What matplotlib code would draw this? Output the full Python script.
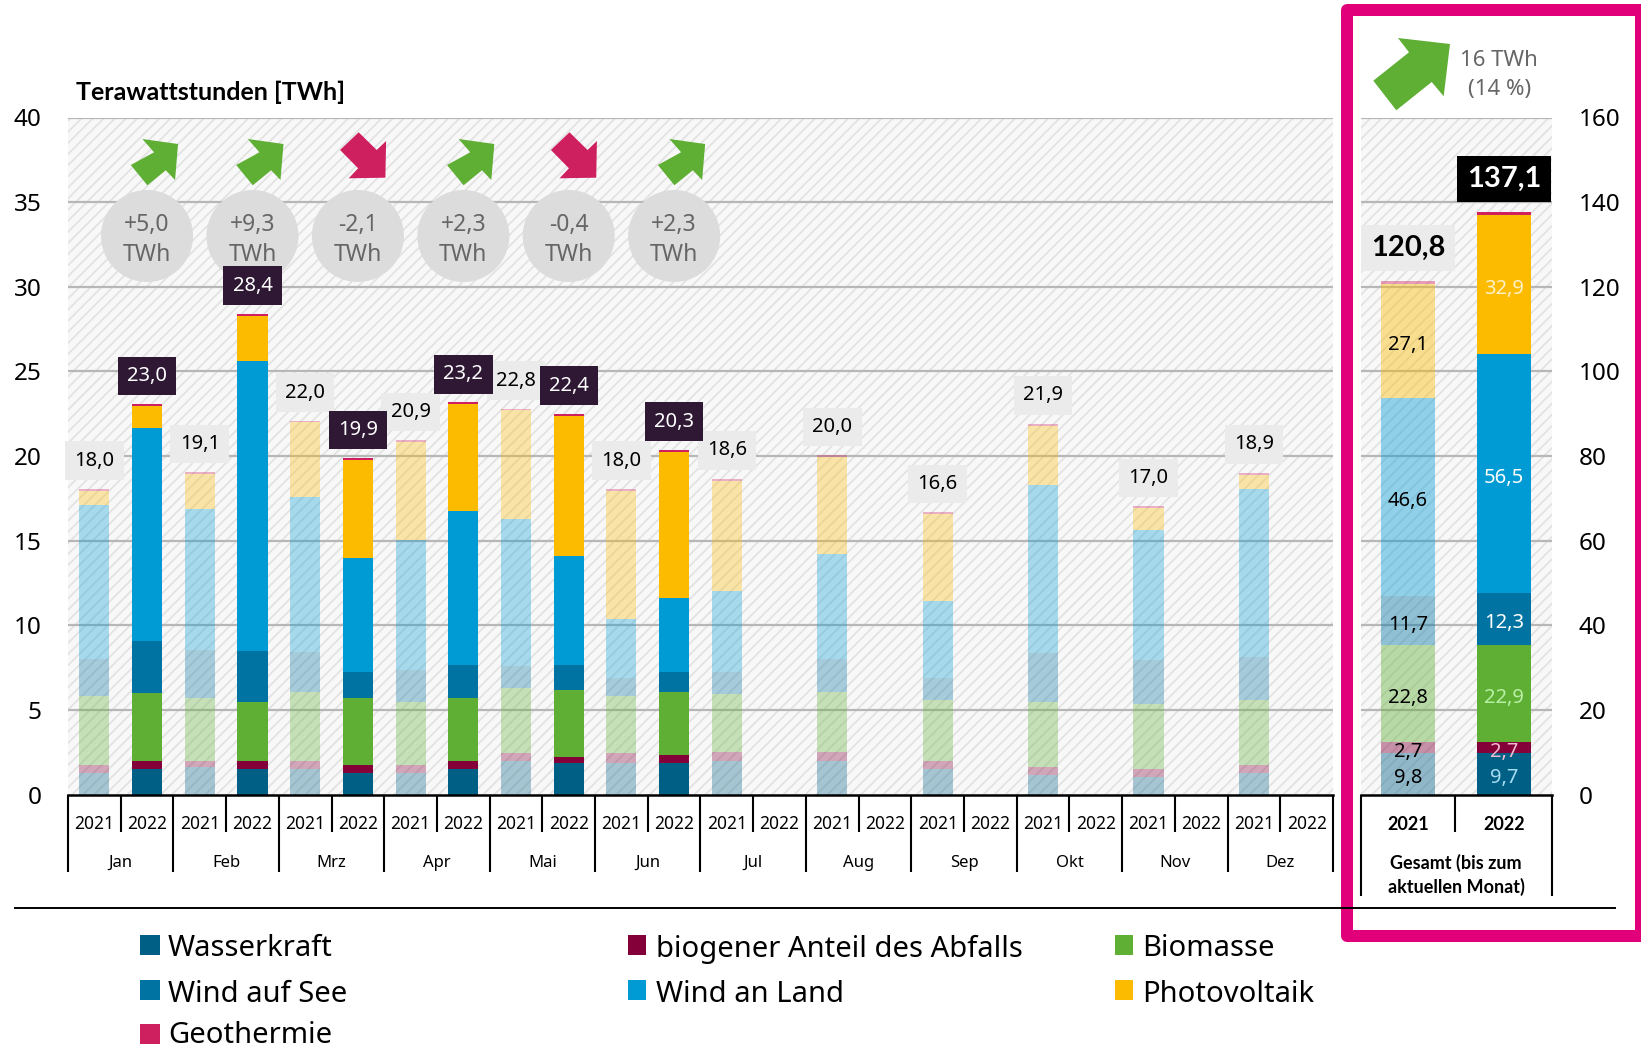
import matplotlib
matplotlib.use("Agg")
import matplotlib.pyplot as plt
import numpy as np
from matplotlib.patches import Circle, Polygon, Rectangle
from matplotlib.transforms import Affine2D

plt.rcParams["font.family"] = ["Noto Sans", "DejaVu Sans"]
plt.rcParams["hatch.linewidth"] = 1.25

BOLD = dict(family="Lato", fontweight="bold")

W, H = 1641, 1050

MONTHS = ["Jan", "Feb", "Mrz", "Apr", "Mai", "Jun", "Jul", "Aug", "Sep", "Okt", "Nov", "Dez"]
SERIES = ["Wasserkraft", "biogener Anteil des Abfalls", "Biomasse", "Wind auf See",
          "Wind an Land", "Photovoltaik", "Geothermie"]
COLORS = ["#005F85", "#830039", "#5FAF35", "#0073A2", "#009BD5", "#FDBB00", "#CE1F5E"]

wasser_21 = [1.28, 1.64, 1.52, 1.28, 1.97, 1.85, 1.97, 1.97, 1.50, 1.14, 1.04, 1.26]
abfall_21 = [0.47, 0.32, 0.45, 0.47, 0.47, 0.59, 0.57, 0.57, 0.47, 0.47, 0.45, 0.47]
biomasse_21 = [4.08, 3.73, 4.10, 3.71, 3.83, 3.39, 3.41, 3.52, 3.60, 3.88, 3.84, 3.84]
see_21 = [2.17, 2.82, 2.33, 1.89, 1.30, 1.03, 1.26, 1.95, 1.30, 2.89, 2.60, 2.58]
land_21 = [9.11, 8.36, 9.17, 7.67, 8.72, 3.51, 4.80, 6.22, 4.55, 9.92, 7.68, 9.92]
pv_21 = [0.83, 2.09, 4.42, 5.82, 6.41, 7.57, 6.54, 5.69, 5.14, 3.50, 1.30, 0.83]
geo_21 = [0.12, 0.10, 0.10, 0.10, 0.10, 0.12, 0.12, 0.14, 0.12, 0.12, 0.12, 0.12]

wasser_22 = [1.52, 1.52, 1.28, 1.52, 1.85, 1.85]
abfall_22 = [0.45, 0.45, 0.47, 0.45, 0.37, 0.49]
biomasse_22 = [4.00, 3.51, 3.96, 3.73, 3.96, 3.73]
see_22 = [3.12, 3.02, 1.52, 1.95, 1.48, 1.16]
land_22 = [12.56, 17.10, 6.73, 9.11, 6.43, 4.40]
pv_22 = [1.28, 2.68, 5.80, 6.29, 8.28, 8.62]
geo_22 = [0.14, 0.12, 0.12, 0.12, 0.12, 0.12]

total_labels_21 = ["18,0", "19,1", "22,0", "20,9", "22,8", "18,0", "18,6", "20,0", "16,6", "21,9", "17,0", "18,9"]
total_labels_22 = ["23,0", "28,4", "19,9", "23,2", "22,4", "20,3"]
diff_labels = ["+5,0", "+9,3", "-2,1", "+2,3", "-0,4", "+2,3"]

sum_21 = [9.8, 2.7, 22.8, 11.7, 46.6, 27.1, 0.6]
sum_22 = [9.7, 2.7, 22.9, 12.3, 56.5, 32.9, 0.6]
sum_total_labels = ["120,8", "137,1"]
sum_label_colors_22 = ["#A5DDF2", "#F3BBD0", "#B9F0A5", "#FFFFFF", "#FFFFFF", "#FFF0C8"]

UP_ARROW = np.array([(31, -92), (-4.7, -97), (7, -83.7), (-16.3, -71), (0.3, -50.7), (18.7, -65.7), (28, -56)])
DOWN_ARROW = np.array([(28.2, -95), (18.8, -86), (0.8, -103.7), (-17.8, -86), (0.2, -67.7), (-9.2, -57.7), (27.5, -58.3)])

fig = plt.figure(figsize=(W / 100, H / 100), dpi=100, facecolor="white")
px = Affine2D().scale(1, -1).translate(0, H)  # reference pixels, y going down

Y_TOP, Y_BASE = 117.5, 794.5


def make_axes(left, right, ymax, yticks):
    ax = fig.add_axes([left / W, (H - Y_BASE) / H, (right - left) / W, (Y_BASE - Y_TOP) / H])
    ax.set_ylim(0, ymax)
    ax.set_yticks(yticks)
    ax.set_xticks([])
    for s in ax.spines.values():
        s.set_visible(False)
    ax.set_facecolor("none")
    ax.add_patch(Rectangle((0, 0), 1, 1, transform=ax.transAxes, facecolor="#F8F8F8",
                           edgecolor="#E2E2E2", hatch="///", lw=0, zorder=0))
    for v in yticks[1:]:
        ax.axhline(v, color="#B7B7B7", lw=1.6, zorder=1)
    return ax


def stacked(ax, xs, columns, width, alpha):
    bottom = np.zeros(len(xs))
    for col, color in zip(columns, COLORS):
        col = np.array(col)
        ax.bar(xs, col, width, bottom=bottom, color=color, alpha=alpha, lw=0, zorder=2)
        bottom += col
    return bottom


def vline(ax, x, y_px, lw=1.5):
    y = (Y_BASE - y_px) / (Y_BASE - Y_TOP)
    ax.plot([x, x], [0, y], color="black", lw=lw, transform=ax.get_xaxis_transform(),
            clip_on=False, zorder=5, solid_capstyle="butt")


def below(ax, x, y_px, text, **kw):
    y = (Y_BASE - y_px) / (Y_BASE - Y_TOP)
    ax.text(x, y, text, transform=ax.get_xaxis_transform(), ha="center", va="center", clip_on=False, **kw)


# months
ax = make_axes(68, 1333, 40, [0, 5, 10, 15, 20, 25, 30, 35, 40])
ax.set_xlim(-0.5, 23.5)
ax.tick_params(axis="y", length=0, pad=19, labelsize=17.5)

xs_21 = np.arange(12) * 2
xs_22 = np.arange(6) * 2 + 1
top_21 = stacked(ax, xs_21, [wasser_21, abfall_21, biomasse_21, see_21, land_21, pv_21, geo_21], 0.57, 0.33)
top_22 = stacked(ax, xs_22, [wasser_22, abfall_22, biomasse_22, see_22, land_22, pv_22, geo_22], 0.57, 1)

for x, top, label in zip(xs_21, top_21, total_labels_21):
    ax.text(x, top + 1.66, label, ha="center", va="center", fontsize=14.5, color="black", zorder=6,
            bbox=dict(boxstyle="square,pad=0.46", fc="#EBEBEB", ec="none"))
for x, top, label in zip(xs_22, top_22, total_labels_22):
    ax.text(x, top + 1.66, label, ha="center", va="center", fontsize=14.5, color="white", zorder=7,
            bbox=dict(boxstyle="square,pad=0.46", fc="#2F1834", ec="none"))

for x, label in zip(xs_22, diff_labels):
    cx = ax.transData.transform((x, 0))[0]
    ax.add_patch(Circle((cx, 236), 46, transform=px, fc="#DCDCDC", ec="none", zorder=3, clip_on=False))
    ax.text(cx, 225, label, transform=px, ha="center", va="center", fontsize=16.5, color="#666666", zorder=4)
    ax.text(cx, 255, "TWh", transform=px, ha="center", va="center", fontsize=16.5, color="#666666", zorder=4)
    shape, color = (DOWN_ARROW, COLORS[6]) if label.startswith("-") else (UP_ARROW, COLORS[2])
    ax.add_patch(Polygon(shape + [cx, 236], transform=px, fc=color, ec="none", zorder=4, clip_on=False))

ax.plot([0, 1], [0, 0], color="black", lw=1.8, transform=ax.transAxes, clip_on=False, zorder=5)
for i in range(12):
    vline(ax, i * 2 - 0.5, 872)
    vline(ax, i * 2 + 0.5, 832)
    below(ax, i * 2, 824, "2021", fontsize=12.5)
    below(ax, i * 2 + 1, 824, "2022", fontsize=12.5)
    below(ax, i * 2 + 0.5, 863, MONTHS[i], fontsize=12)
vline(ax, 23.5, 872)

# total panel
ax2 = make_axes(1361, 1552, 160, [0, 20, 40, 60, 80, 100, 120, 140, 160])
ax2.set_xlim((1361 - 1408) / 96, (1552 - 1408) / 96)
ax2.yaxis.tick_right()
ax2.tick_params(axis="y", length=0, pad=19, labelsize=17.5)

top_a = stacked(ax2, [0], [[v] for v in sum_21], 0.57, 0.42)
top_b = stacked(ax2, [1], [[v] for v in sum_22], 0.57, 1)

for x, values, colors in [(0, sum_21, ["black"] * 6), (1, sum_22, sum_label_colors_22)]:
    bottom = 0
    for v, c in zip(values[:6], colors):
        ax2.text(x, bottom + v / 2 - 1.0, f"{v:.1f}".replace(".", ","), ha="center", va="center",
                 fontsize=14.5, color=c, zorder=6)
        bottom += v

ax2.text(0, top_a[0] + 7.9, sum_total_labels[0], ha="center", va="center", fontsize=21, color="black",
         zorder=6, bbox=dict(boxstyle="square,pad=0.34", fc="#EBEBEB", ec="none"), **BOLD)
ax2.text(1, top_b[0] + 7.9, sum_total_labels[1], ha="center", va="center", fontsize=21, color="white",
         zorder=6, bbox=dict(boxstyle="square,pad=0.34", fc="black", ec="none"), **BOLD)

ax2.plot([0, 1], [0, 0], color="black", lw=1.8, transform=ax2.transAxes, clip_on=False, zorder=5)
vline(ax2, (1361 - 1408) / 96, 896)
vline(ax2, (1552 - 1408) / 96, 896)
vline(ax2, (1455 - 1408) / 96, 832)
below(ax2, 0, 824, "2021", fontsize=13, **BOLD)
below(ax2, 1, 824, "2022", fontsize=13, **BOLD)
below(ax2, 0.5, 863, "Gesamt (bis zum", fontsize=13, **BOLD)
below(ax2, 0.5, 887, "aktuellen Monat)", fontsize=13, **BOLD)

# frame, big arrow, rule
fig.add_artist(Rectangle((1347, 10), 294, 926, transform=px, fill=False, ec="#E2007A", lw=8.64,
                         joinstyle="round"))
fig.add_artist(Polygon([(1450, 44), (1398, 38), (1409, 52.3), (1373.3, 80.7), (1396.3, 110.3),
                        (1431.7, 82), (1443.7, 96.3)], transform=px, fc=COLORS[2], ec="none"))
fig.text(1499, 61, "16 TWh", transform=px, ha="center", va="center", fontsize=16, color="#666666")
fig.text(1500, 90, "(14 %)", transform=px, ha="center", va="center", fontsize=16, color="#666666")
fig.text(76, 92, "Terawattstunden [TWh]", transform=px, ha="left", va="center", fontsize=18, **BOLD)
fig.add_artist(plt.Line2D([15, 1615], [908, 908], transform=px, color="black", lw=1.4))

# legend
legend_cols = [(140, 20, 168), (628, 18, 656), (1115, 18, 1142)]
legend_rows = [945, 990, 1034]
legend_baselines = [956.5, 1002, 1043]
legend_slots = [(0, 0), (1, 0), (2, 0), (0, 1), (1, 1), (2, 1), (0, 2)]
for (c, r), idx in zip(legend_slots, range(7)):
    x, w, tx = legend_cols[c]
    y = legend_rows[r]
    fig.add_artist(Rectangle((x, y - 10), w, 20, transform=px, fc=COLORS[idx], ec="none"))
    fig.text(tx, legend_baselines[r], SERIES[idx], transform=px, ha="left", va="baseline", fontsize=21,
             color="black")

fig.savefig("out.png", dpi=100)
